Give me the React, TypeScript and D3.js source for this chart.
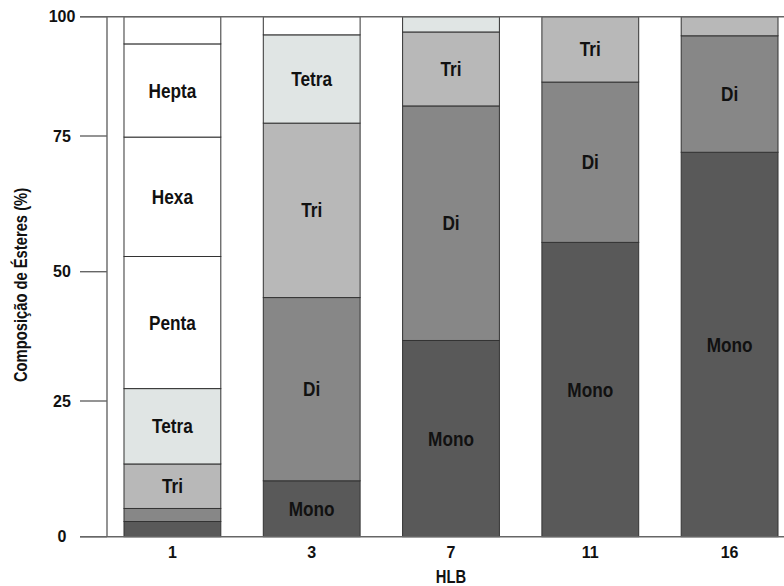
import React from 'react';
import * as d3 from 'd3';

const categories = ['1', '3', '7', '11', '16'];
const seriesNames = ['Mono', 'Di', 'Tri', 'Tetra', 'Penta', 'Hexa', 'Hepta', 'Octa'];
const mono = [2.8, 10.3, 36.7, 55.4, 72.0];
const di = [2.4, 34.7, 44.6, 30.9, 24.0];
const tri = [8.2, 32.7, 15.5, 13.7, 4.0];
const tetra = [14.0, 18.5, 3.2, 0, 0];
const penta = [25.4, 3.8, 0, 0, 0];
const hexa = [22.0, 0, 0, 0, 0];
const hepta = [19.5, 0, 0, 0, 0];
const octa = [5.7, 0, 0, 0, 0];
const seriesValues = [mono, di, tri, tetra, penta, hexa, hepta, octa];
const yTicks = [0, 25, 50, 75, 100];
const xTitle = 'HLB';
const yTitle = 'Composição de Ésteres (%)';

const colors: Record<string, string> = {
  Mono: '#595959',
  Di: '#878787',
  Tri: '#b8b8b8',
  Tetra: '#e0e5e4',
  Penta: '#ffffff',
  Hexa: '#ffffff',
  Hepta: '#ffffff',
  Octa: '#ffffff',
};
const labelled: Record<string, boolean> = {
  Mono: true, Di: true, Tri: true, Tetra: true, Penta: true, Hexa: true, Hepta: true, Octa: false,
};

const W = 784;
const H = 586;
const sans = "'Liberation Sans', Arial, sans-serif";
const NARROW = 0.82;

function NarrowText(props: { x: number; y: number; size: number; rotate?: number; baseline?: string; children: string }) {
  const { x, y, size, rotate = 0, baseline, children } = props;
  return (
    <g transform={`translate(${x},${y}) rotate(${rotate}) scale(${NARROW},1)`}>
      <text
        x={0}
        y={0}
        textAnchor="middle"
        dominantBaseline={baseline}
        fontFamily={sans}
        fontWeight="bold"
        fontSize={size}
        fill="#111"
      >
        {children}
      </text>
    </g>
  );
}

export default function App() {
  const rows = categories.map((c, i) => {
    const r: any = { cat: c };
    seriesNames.forEach((s, k) => (r[s] = seriesValues[k][i]));
    return r;
  });
  const stacked = d3.stack<any>().keys(seriesNames)(rows);

  const x = d3
    .scaleBand<string>()
    .domain(categories)
    .range([102.75, 799.25])
    .paddingInner(0.305)
    .paddingOuter(0.1525);
  // axis as drawn in the reference (tick spacing is uneven)
  const y = d3.scaleLinear().domain(yTicks).range([536.7, 401, 271.7, 136, 16.7]);

  const axisX = 107;
  const frameLeft = 80;
  const xMid = (x.range()[0] + x.range()[1]) / 2;

  return (
    <svg width={W} height={H} style={{ position: 'absolute', left: 0, top: 0, background: '#fff' }}>
      {stacked.map((layer) =>
        layer.map((d, i) => {
          const v = d[1] - d[0];
          if (v <= 0) return null;
          const x0 = x(categories[i])!;
          const yTop = y(d[1]);
          const yBot = y(d[0]);
          return (
            <rect
              key={layer.key + i}
              x={x0}
              y={yTop}
              width={x.bandwidth()}
              height={yBot - yTop}
              fill={colors[layer.key]}
              stroke="#333"
              strokeWidth={1}
            />
          );
        })
      )}
      {stacked.map((layer) =>
        layer.map((d, i) => {
          const v = d[1] - d[0];
          if (v < 7 || !labelled[layer.key]) return null;
          const cx = x(categories[i])! + x.bandwidth() / 2;
          const cy = (y(d[0]) + y(d[1])) / 2;
          return (
            <NarrowText key={'l' + layer.key + i} x={cx} y={cy} size={21} baseline="central">
              {layer.key}
            </NarrowText>
          );
        })
      )}
      <line x1={frameLeft} x2={W} y1={y(100)} y2={y(100)} stroke="#666" strokeWidth={1.4} />
      <line x1={frameLeft} x2={W} y1={y(0)} y2={y(0)} stroke="#666" strokeWidth={1.4} />
      <line x1={axisX} x2={axisX} y1={y(100)} y2={y(0)} stroke="#666" strokeWidth={1.4} />
      {yTicks.map((t) => (
        <g key={'t' + t}>
          <line x1={frameLeft} x2={axisX} y1={y(t)} y2={y(t)} stroke="#666" strokeWidth={1.4} />
          <text
            x={62}
            y={y(t)}
            textAnchor="middle"
            dominantBaseline="central"
            fontFamily={sans}
            fontWeight="bold"
            fontSize={16}
            fill="#111"
          >
            {t}
          </text>
        </g>
      ))}
      {categories.map((c) => (
        <text
          key={'x' + c}
          x={x(c)! + x.bandwidth() / 2}
          y={558}
          textAnchor="middle"
          fontFamily={sans}
          fontWeight="bold"
          fontSize={16}
          fill="#111"
        >
          {c}
        </text>
      ))}
      <NarrowText x={xMid} y={582.5} size={18}>
        {xTitle}
      </NarrowText>
      <NarrowText x={27} y={285} size={18} rotate={-90}>
        {yTitle}
      </NarrowText>
    </svg>
  );
}
